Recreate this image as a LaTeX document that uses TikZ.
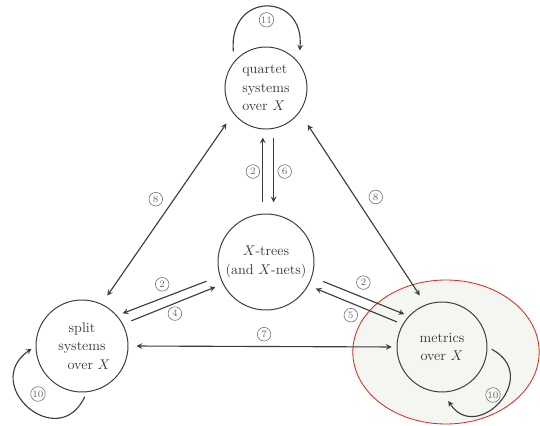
\documentclass[tikz,border=0pt]{standalone}
\usepackage{tikz}
\usepackage{xcolor}
\usetikzlibrary{arrows, positioning, shapes.geometric}
\definecolor{inkcolor}{RGB}{60,60,60}
\definecolor{tagcolor}{RGB}{105,105,105}
\definecolor{hilitecolor}{RGB}{228,40,30}
\definecolor{shadecolor}{RGB}{244,246,242}

\begin{document}
\begin{tikzpicture}[node distance=2.1cm,
    topic/.style={circle, draw=inkcolor, line width=0.7pt, minimum size=2.3cm, inner sep=1pt, align=center, text=inkcolor, font=\fontsize{10}{13}\selectfont},
    tag/.style={circle, draw=tagcolor, line width=0.4pt, inner sep=0.4pt, minimum size=0.34cm, text=tagcolor, font=\fontsize{7}{7}\selectfont},
    arrow/.style={->, >=stealth, line width=0.8pt, draw=inkcolor},
    biarrow/.style={<->, >=stealth, line width=0.8pt, draw=inkcolor}]

    \useasboundingbox (-6.65,-4.1) rectangle (6.85,6.55);

    % Shaded region round the metrics
    \draw [hilitecolor, fill=shadecolor, line width=0.6pt] (4.5,-2.25) ellipse (2.33cm and 1.8cm);

    % Topics
    \node [topic, minimum size=2.4cm] (xtrees) {$X$-trees\\(and $X$-nets)};
    \node [topic, minimum size=2.05cm, align=left, above=of xtrees] (quartet) {quartet\\systems\\over $X$};
    \node [topic] (split) at (-4.6,-2.1) {split\\systems\\\hspace*{10pt}over $X$};
    \node [topic, minimum size=2.25cm] (metrics) at (4.4,-2.125) {metrics\\over $X$};

    % Arrows between quartets and trees
    \draw [arrow, shorten <=0.28cm, shorten >=0.2cm] ([xshift=-0.08cm]xtrees.north) -- ([xshift=-0.08cm]quartet.south)
        node [tag, midway, left=0.07cm] {2};
    \draw [arrow, shorten <=0.2cm, shorten >=0.28cm] ([xshift=0.19cm]quartet.south) -- ([xshift=0.19cm]xtrees.north)
        node [tag, midway, right=0.1cm] {6};

    % Arrows from the quartets to the corners
    \draw [biarrow, shorten <=0.3cm, shorten >=0.25cm] (quartet.218) -- (split.65)
        node [tag, pos=0.45, left=0.28cm] {8};
    \draw [biarrow, shorten <=0.37cm, shorten >=0.27cm] (quartet.324) -- (metrics.111)
        node [tag, pos=0.44, right=0.34cm] {8};

    % Arrows between trees and splits
    \draw [arrow, shorten <=0.35cm, shorten >=0.15cm] (xtrees.197) -- (split.41)
        node [tag, pos=0.56, above=0.17cm] {2};
    \draw [arrow, shorten <=0.22cm, shorten >=0.2cm] (split.28) -- (xtrees.207)
        node [tag, pos=0.52, below=0.08cm] {4};

    % Arrows between trees and metrics
    \draw [arrow, shorten <=0.3cm, shorten >=0.12cm] (xtrees.342) -- (metrics.137)
        node [tag, pos=0.53, above=0.2cm] {2};
    \draw [arrow, shorten <=0.15cm, shorten >=0.2cm] (metrics.150) -- (xtrees.331)
        node [tag, pos=0.55, below=0.13cm] {5};

    % Splits <-> metrics
    \draw [biarrow, shorten <=0.2cm, shorten >=0.12cm] (split.east) -- (metrics.west)
        node [tag, pos=0.506, above=0.13cm] {7};

    % Loops
    \draw [arrow, shorten <=0.25cm, shorten >=0.3cm] (quartet.140) to [out=95, in=85, looseness=2.8]
        node [tag, midway, below=0.08cm] {11} (quartet.38);
    \draw [arrow, shorten <=0.12cm, shorten >=0.12cm] (split.276) to [out=245, in=215, looseness=2.5] (split.180);
    \node [tag] (loopsplit) at ([shift={(-1.1,-1.2)}]split.center) {10};
    \draw [arrow, shorten <=0.12cm, shorten >=0.25cm] (metrics.0) to [out=-28, in=-57, looseness=2.5] (metrics.271);
    \node [tag] (loopmetrics) at ([shift={(1.275,-1.2)}]metrics.center) {10};

\end{tikzpicture}
\end{document}
